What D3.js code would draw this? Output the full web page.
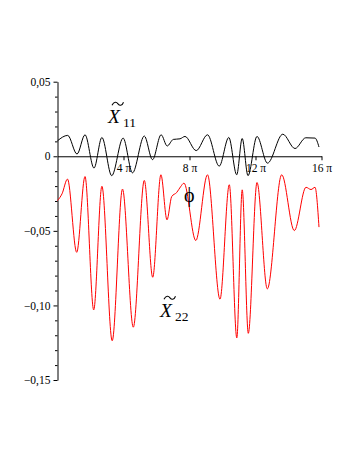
<!DOCTYPE html>
<html>
<head>
<meta charset="utf-8">
<script src="https://cdn.jsdelivr.net/npm/d3@7"></script>
<style>
  html, body { margin: 0; padding: 0; background: #ffffff; }
  svg { display: block; }
</style>
</head>
<body>
<svg id="chart" width="357" height="462"></svg>
<script>
// ---- data (x in multiples of π) ----
const xTickValues = [4, 8, 12, 16];
const xTickLabels = ["4 π", "8 π", "12 π", "16 π"];
const yTickValues = [0.05, 0, -0.05, -0.10, -0.15];
const yTickLabels = ["0,05", "0", "−0,05", "−0,10", "−0,15"];
const yMinorTicks = [0.04, 0.03, 0.02, 0.01, -0.01, -0.02, -0.03, -0.04, -0.06, -0.07, -0.08, -0.09, -0.11, -0.12, -0.13, -0.14];

const x11 = [0, 0.618, 1.182, 1.667, 2.212, 2.691, 3.285, 3.976, 4.545, 5.261, 5.758, 6.279, 6.648, 7.018, 7.424, 7.727, 8.406, 9.091, 9.800, 10.382, 10.861, 11.194, 11.545, 12.091, 12.727, 13.655, 14.394, 15.048, 15.606, 15.848];
const y11 = [0.0104, 0.0140, 0.0015, 0.0144, -0.0079, 0.0126, -0.0130, 0.0122, -0.0111, 0.0136, -0.0023, 0.0144, 0.0069, 0.0113, 0.0117, 0.0133, 0.0038, 0.0144, -0.0066, 0.0126, -0.0124, 0.0119, -0.0130, 0.0133, -0.0046, 0.0148, 0.0052, 0.0124, 0.0122, 0.0062];

const x22 = [0, 0.273, 0.606, 1.164, 1.667, 2.194, 2.691, 3.315, 3.939, 4.594, 5.261, 5.770, 6.267, 6.636, 6.921, 7.224, 7.455, 7.667, 8.382, 9.091, 9.848, 10.412, 10.867, 11.194, 11.564, 12.091, 12.715, 13.588, 14.352, 15.061, 15.364, 15.606, 15.848];
const y22 = [-0.0297, -0.0252, -0.0153, -0.0644, -0.0136, -0.1030, -0.0201, -0.1237, -0.0220, -0.1146, -0.0162, -0.0811, -0.0124, -0.0426, -0.0270, -0.0243, -0.0205, -0.0180, -0.0565, -0.0124, -0.0958, -0.0191, -0.1218, -0.0225, -0.1187, -0.0176, -0.0889, -0.0124, -0.0498, -0.0208, -0.0223, -0.0208, -0.0475];

// ---- chart ----
const FONT = '"Liberation Serif", "Times New Roman", serif';
const svg = d3.select("#chart");
const x = d3.scaleLinear().domain([0, 16 * Math.PI]).range([57.5, 321.5]);
const y = d3.scaleLinear().domain([-0.15, 0.05]).range([380, 81.7]);

// y axis minor ticks
svg.append("g")
  .attr("transform", `translate(${x(0)},0)`)
  .call(d3.axisLeft(y).tickValues(yMinorTicks).tickSize(2.5).tickFormat(""))
  .call(g => g.select(".domain").remove())
  .call(g => g.selectAll("line").attr("stroke", "#000"));

// y axis major
svg.append("g")
  .attr("transform", `translate(${x(0)},0)`)
  .call(d3.axisLeft(y).tickValues(yTickValues).tickSize(4).tickSizeOuter(0).tickPadding(3)
    .tickFormat((d, i) => yTickLabels[i]))
  .attr("font-family", FONT).attr("font-size", 11.5)
  .call(g => g.select(".domain").attr("stroke", "#000"))
  .call(g => g.selectAll("line").attr("stroke", "#000"))
  .call(g => g.selectAll("text").attr("fill", "#000"));

// x axis
svg.append("g")
  .attr("transform", `translate(0,${y(0)})`)
  .call(d3.axisBottom(x).tickValues(xTickValues.map(v => v * Math.PI)).tickSize(4).tickSizeOuter(0).tickPadding(4)
    .tickFormat((d, i) => xTickLabels[i]))
  .attr("font-family", FONT).attr("font-size", 11.5)
  .call(g => g.select(".domain").attr("stroke", "#000"))
  .call(g => g.selectAll("line").attr("stroke", "#000"))
  .call(g => g.selectAll("text").attr("fill", "#000"));

const line = d3.line()
  .x(d => x(d[0] * Math.PI))
  .y(d => y(d[1]))
  .curve(d3.curveMonotoneX);

svg.append("path")
  .datum(x11.map((v, i) => [v, y11[i]]))
  .attr("d", line)
  .attr("fill", "none")
  .attr("stroke", "#000")
  .attr("stroke-width", 1);

svg.append("path")
  .datum(x22.map((v, i) => [v, y22[i]]))
  .attr("d", line)
  .attr("fill", "none")
  .attr("stroke", "#ff0000")
  .attr("stroke-width", 1);

// curve labels
function curveLabel(xp, yp, sub) {
  const g = svg.append("g").attr("font-family", FONT).attr("fill", "#000");
  g.append("text").attr("x", xp).attr("y", yp)
    .attr("font-size", 19.5).attr("font-style", "italic").text("X");
  const p = d3.path();
  const tx = xp + 4, ty = yp - 20.5;
  p.moveTo(tx, ty + 2.5);
  p.bezierCurveTo(tx + 2, ty - 1.5, tx + 4.5, ty - 1, tx + 6, ty + 1);
  p.bezierCurveTo(tx + 7.5, ty + 3, tx + 10, ty + 3.5, tx + 11.5, ty - 0.5);
  g.append("path").attr("d", p.toString()).attr("fill", "none").attr("stroke", "#000").attr("stroke-width", 1.1);
  g.append("text").attr("x", xp + 15).attr("y", yp + 3.5)
    .attr("font-size", 13.5).text(sub);
}
curveLabel(108, 123.3, "11");
curveLabel(160, 317.3, "22");

// phi marker
svg.append("text").attr("x", 189.3).attr("y", 201.5)
  .attr("font-family", FONT)
  .attr("text-anchor", "middle").attr("font-size", 20).attr("fill", "#000").text("ϕ");
</script>
</body>
</html>
